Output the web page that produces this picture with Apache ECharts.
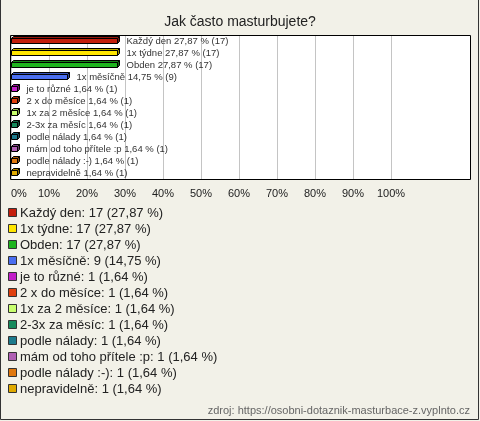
<!DOCTYPE html>
<html><head><meta charset="utf-8">
<script src="https://cdn.jsdelivr.net/npm/echarts@6/dist/echarts.min.js"></script>
<style>html,body{margin:0;padding:0;background:#f2f1e8;}#c{width:480px;height:421px;}</style>
</head><body><div id="c"></div>
<script>
const categories = ["Každý den","1x týdne","Obden","1x měsíčně","je to různé","2 x do měsíce","1x za 2 měsíce","2-3x za měsíc","podle nálady","mám od toho přítele :p","podle nálady :-)","nepravidelně"];
const counts = [17,17,17,9,1,1,1,1,1,1,1,1];
const percents = [27.87,27.87,27.87,14.75,1.64,1.64,1.64,1.64,1.64,1.64,1.64,1.64];
const colors = ["#c41e0c","#ffe600","#1eb41e","#4a6ef0","#c21ec8","#e0400e","#c8ff6e","#168a5c","#1c7a8c","#b060b4","#e0780e","#e0aa00"];
const tickValues = [0,10,20,30,40,50,60,70,80,90,100];

const fmt = v => v.toFixed(2).replace('.', ',');
function shade(hex, f){
  const n = parseInt(hex.slice(1),16);
  const r = Math.round(((n>>16)&255)*f), g = Math.round(((n>>8)&255)*f), b = Math.round((n&255)*f);
  return 'rgb('+r+','+g+','+b+')';
}
const FONT = 'Arial, "Liberation Sans", sans-serif';
const chart = echarts.init(document.getElementById('c'), null, {renderer:'canvas'});

const legendEls = [];
categories.forEach((c,i)=>{
  const y = 213 + i*16;
  legendEls.push({type:'rect', shape:{x:8.5,y:y-4.5,width:8,height:8}, style:{fill:colors[i], stroke:'#333', lineWidth:1}, z:5});
  legendEls.push({type:'text', x:20, y:y, style:{text:c+': '+counts[i]+' ('+fmt(percents[i])+' %)', fill:'#222', font:'13px '+FONT, verticalAlign:'middle', align:'left'}, z:5});
});

chart.setOption({
  backgroundColor:'#f2f1e8',
  animation:false,
  title:{text:'Jak často masturbujete?', left:'center', top:10, textStyle:{fontSize:14, fontWeight:'normal', color:'#222', fontFamily:FONT}},
  grid:{left:11, top:35, width:380, height:144, containLabel:false},
  xAxis:{type:'value', min:tickValues[0], max:tickValues[tickValues.length-1], interval:10,
    axisLine:{show:false}, axisTick:{show:false},
    splitLine:{show:true, lineStyle:{color:'#c4c4c4', width:1}},
    axisLabel:{formatter:v=>v+'%', color:'#222', fontSize:11, fontFamily:FONT, margin:9, alignMinLabel:'left'}},
  yAxis:{type:'category', data:categories, inverse:true, show:false},
  graphic:[
    {type:'rect', shape:{x:10,y:35,width:460,height:144}, style:{fill:'#fff'}, z:-10},
    {type:'rect', shape:{x:10.5,y:35.5,width:460,height:144}, style:{fill:'none', stroke:'#000', lineWidth:1}, z:100},
    {type:'polyline', shape:{points:[[0.5,0],[0.5,419.5],[478.5,419.5],[478.5,0]]}, style:{stroke:'#333', fill:'none', lineWidth:1}, z:100},
    {type:'text', right:10, top:405, style:{text:'zdroj: https://osobni-dotaznik-masturbace-z.vyplnto.cz', fill:'#666', font:'11px '+FONT}, z:5},
    ...legendEls
  ],
  series:[{
    type:'custom',
    z:5,
    data: percents.map((p,i)=>[p,i]),
    renderItem:(params, api)=>{
      const i = api.value(1);
      const p0 = api.coord([0,i]);
      const p1 = api.coord([api.value(0),i]);
      const x0 = Math.round(p0[0])+0.5, x1 = Math.round(p1[0])+0.5, yc = Math.round(p0[1]);
      const top = yc-2.5, bot = yc+2.5, d = 2;
      const col = colors[i];
      const st = {stroke:'#000', lineWidth:1};
      return {type:'group', children:[
        {type:'polygon', shape:{points:[[x0,top],[x0+d,top-d],[x1+d,top-d],[x1,top]]}, style:Object.assign({fill:shade(col,0.75)},st)},
        {type:'polygon', shape:{points:[[x1,top],[x1+d,top-d],[x1+d,bot-d],[x1,bot]]}, style:Object.assign({fill:shade(col,0.6)},st)},
        {type:'rect', shape:{x:x0,y:top,width:x1-x0,height:bot-top}, style:Object.assign({fill:col},st)},
        {type:'text', x:x1+d+7, y:yc, style:{text:categories[i]+' '+fmt(percents[i])+' % ('+counts[i]+')', fill:'#333', font:'9.5px '+FONT, verticalAlign:'middle', align:'left'}}
      ]};
    }
  }]
});
</script></body></html>
